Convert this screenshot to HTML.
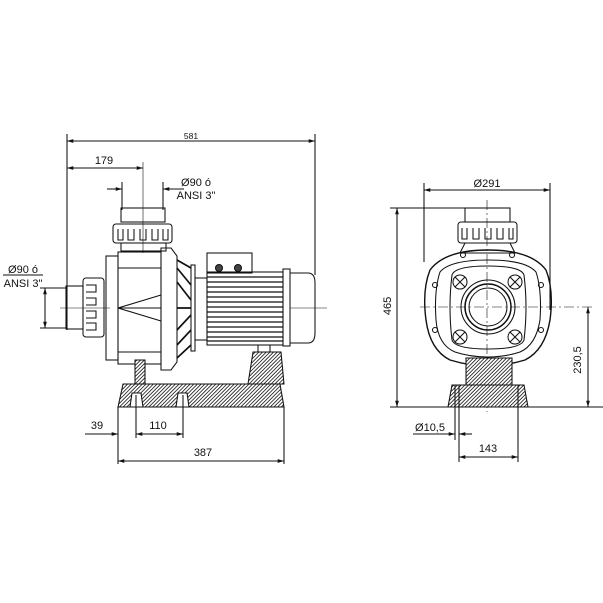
<!DOCTYPE html>
<html><head><style>
html,body{margin:0;padding:0;background:#fff;width:603px;height:603px;overflow:hidden}
svg{display:block}
text{font-family:"Liberation Sans",sans-serif;fill:#111}
</style></head><body>
<svg width="603" height="603" viewBox="0 0 603 603" xmlns="http://www.w3.org/2000/svg">
<defs>
<pattern id="h" width="2.6" height="2.6" patternUnits="userSpaceOnUse" patternTransform="rotate(45)">
<rect width="2.6" height="2.6" fill="#fff"/><line x1="0" y1="0" x2="0" y2="2.6" stroke="#222" stroke-width="1.7"/>
</pattern>
<marker id="a" viewBox="0 0 10 10" refX="10" refY="5" markerWidth="6" markerHeight="6" orient="auto-start-reverse">
<path d="M0,2 L10,5 L0,8 z" fill="#111"/></marker>
</defs>
<g stroke="#111" stroke-width="1.05" fill="none">
<line x1="67" y1="134" x2="67" y2="330"/>
<line x1="315" y1="134" x2="315" y2="275"/>
<line x1="67" y1="141" x2="315" y2="141" marker-start="url(#a)" marker-end="url(#a)"/>
<line x1="67" y1="168" x2="143" y2="168" marker-start="url(#a)" marker-end="url(#a)"/>
<line x1="143" y1="162" x2="143" y2="253" stroke-width="0.6"/>
<line x1="122" y1="182" x2="122" y2="210"/>
<line x1="163" y1="182" x2="163" y2="210"/>
<line x1="107" y1="189" x2="122" y2="189" marker-end="url(#a)"/>
<line x1="163" y1="189" x2="184" y2="189" marker-start="url(#a)"/>
<line x1="40" y1="288" x2="66" y2="288"/>
<line x1="40" y1="328" x2="66" y2="328"/>
<line x1="45" y1="288" x2="45" y2="328" marker-start="url(#a)" marker-end="url(#a)"/>
<line x1="3" y1="275" x2="43" y2="275"/>
<line x1="60" y1="308" x2="110" y2="308" stroke-width="0.5"/>
<line x1="290" y1="308" x2="327" y2="308" stroke-width="0.5"/>
<rect x="121" y="208" width="44" height="14"/>
<rect x="113" y="224" width="59" height="19" rx="3"/>
<path d="M118,229 v11 h5 v-11 M128,229 v11 h6 v-11 M140,229 v11 h6 v-11 M152,229 v11 h6 v-11 M163,229 v11 h5 v-11"/>
<rect x="121" y="243" width="45" height="8"/>
<rect x="66" y="286" width="17" height="43"/>
<rect x="83" y="278" width="21" height="59" rx="3"/>
<path d="M86,285 h10 v7 h-10 M86,298 h10 v7 h-10 M86,311 h10 v7 h-10 M86,323 h10 v7 h-10"/>
<rect x="106" y="256" width="12" height="104"/>
<rect x="118" y="252" width="43" height="112"/>
<line x1="118" y1="268" x2="161" y2="268"/>
<line x1="118" y1="352" x2="161" y2="352"/>
<path d="M161,248 h10 l6,8 v106 l-6,8 h-10 z"/>
<path d="M118,308 L161,295 M118,308 L161,321 M118,308 h43"/>
<path d="M177,260 L191,268 M177,268 L191,285 M177,282 L191,300 M177,308 h14 M177,330 L191,315 M177,345 L191,330 M177,358 L191,345" stroke-width="1.7"/>
<rect x="191" y="265" width="4" height="86"/>
<rect x="195" y="278" width="12" height="62"/>
<rect x="207" y="253" width="45" height="20"/>
<circle cx="219" cy="268" r="3.5" fill="#444"/>
<circle cx="238" cy="268" r="3.5" fill="#444"/>
<rect x="207" y="272" width="76" height="73"/>
<path d="M207,277h76M207,282h76M207,287h76M207,292h76M207,297h76M207,302h76M207,307h76M207,312h76M207,317h76M207,322h76M207,327h76M207,332h76M207,337h76M207,341h76" stroke-width="1.3"/>
<rect x="283" y="269" width="7" height="77"/>
<path d="M290,273 h18 q7,0 7,10 v50 q0,10 -7,10 h-18"/>
<path d="M135,360 h10 v24 h-10 z" fill="url(#h)"/>
<path d="M258,345 h12 v7 h-12 z"/>
<path d="M253,352 h28 l3,32 h-36 z" fill="url(#h)"/>
<path d="M123,384 h157 l4,23 h-166 z" fill="url(#h)"/>
<path d="M130,407 l2,-14 h9 l2,14 z M176,407 l2,-14 h9 l2,14 z" fill="#fff"/>
<line x1="118" y1="407" x2="118" y2="464"/>
<line x1="284" y1="407" x2="284" y2="464"/>
<line x1="136" y1="395" x2="136" y2="438"/>
<line x1="183" y1="395" x2="183" y2="438"/>
<line x1="85" y1="434" x2="118" y2="434" marker-end="url(#a)"/>
<line x1="136" y1="434" x2="183" y2="434" marker-start="url(#a)" marker-end="url(#a)"/>
<line x1="118" y1="461" x2="284" y2="461" marker-start="url(#a)" marker-end="url(#a)"/>

<line x1="424" y1="183" x2="424" y2="262"/>
<line x1="550" y1="183" x2="550" y2="310"/>
<line x1="424" y1="190" x2="550" y2="190" marker-start="url(#a)" marker-end="url(#a)"/>
<line x1="390" y1="208" x2="510" y2="208"/>
<line x1="390" y1="407" x2="603" y2="407"/>
<line x1="397" y1="208" x2="397" y2="407" marker-start="url(#a)" marker-end="url(#a)"/>
<line x1="420" y1="307" x2="595" y2="307" stroke-width="0.6" stroke-dasharray="10,3,2,3"/>
<line x1="588" y1="307" x2="588" y2="407" marker-start="url(#a)" marker-end="url(#a)"/>
<line x1="487" y1="200" x2="487" y2="412" stroke-width="0.6" stroke-dasharray="10,3,2,3"/>
<rect x="465" y="208" width="45" height="14"/>
<rect x="458" y="222" width="59" height="21" rx="3"/>
<path d="M462,228 v11 h5 v-11 M473,228 v11 h6 v-11 M485,228 v11 h6 v-11 M497,228 v11 h6 v-11 M509,228 v11 h4 v-11"/>
<path d="M465,243 h45 l5,10 h-55 z"/>
<path d="M430,270 Q445,250 488,250 Q531,250 546,270 Q554,290 550,320 Q545,350 525,360 Q505,366 488,366 Q470,366 450,360 Q430,350 426,320 Q422,290 430,270 z" stroke-width="1.4"/>
<path d="M440,272 Q450,260 488,260 Q526,260 536,272 Q542,290 540,320 Q536,345 520,352 Q505,357 488,357 Q470,357 455,352 Q438,345 436,320 Q434,290 440,272 z"/>
<path d="M452,275 Q455,266 488,266 Q521,266 524,275 Q528,307 524,340 Q521,349 488,349 Q455,349 452,340 Q448,307 452,275 z"/>
<circle cx="488" cy="307" r="27"/>
<circle cx="488" cy="307" r="23" stroke-width="1.5"/>
<circle cx="488" cy="307" r="19"/>
<circle cx="460" cy="282" r="7"/><path d="M455,277 l10,10 M465,277 l-10,10"/>
<circle cx="515" cy="282" r="7"/><path d="M510,277 l10,10 M520,277 l-10,10"/>
<circle cx="460" cy="337" r="7"/><path d="M455,332 l10,10 M465,332 l-10,10"/>
<circle cx="515" cy="337" r="7"/><path d="M510,332 l10,10 M520,332 l-10,10"/>
<circle cx="435" cy="285" r="2.5"/><circle cx="541" cy="285" r="2.5"/>
<circle cx="435" cy="330" r="2.5"/><circle cx="541" cy="330" r="2.5"/>
<circle cx="463" cy="255" r="2.5"/><circle cx="512" cy="255" r="2.5"/>
<path d="M466,358 h46 v27 h-46 z" fill="url(#h)"/>
<path d="M452,385 h72 l4,22 h-80 z" fill="url(#h)"/>
<path d="M455,385 v22 M459,385 v22 M518,385 v22"/>
<line x1="455" y1="407" x2="455" y2="440"/>
<line x1="459" y1="407" x2="459" y2="462"/>
<line x1="518" y1="407" x2="518" y2="462"/>
<line x1="413" y1="434" x2="455" y2="434" marker-end="url(#a)"/>
<line x1="459" y1="434" x2="472" y2="434" marker-start="url(#a)"/>
<line x1="459" y1="457" x2="518" y2="457" marker-start="url(#a)" marker-end="url(#a)"/>
</g>
<text x="191" y="139" font-size="8.5" text-anchor="middle">581</text>
<text x="104" y="164" font-size="11" text-anchor="middle">179</text>
<text x="196" y="186" font-size="11" text-anchor="middle">Ø90 ó</text>
<text x="196" y="199" font-size="11" text-anchor="middle">ANSI 3"</text>
<text x="23" y="273" font-size="11" text-anchor="middle">Ø90 ó</text>
<text x="23" y="287" font-size="11" text-anchor="middle">ANSI 3"</text>
<text x="97" y="429" font-size="11" text-anchor="middle">39</text>
<text x="158" y="429" font-size="11" text-anchor="middle">110</text>
<text x="203" y="456" font-size="11" text-anchor="middle">387</text>
<text x="487" y="187" font-size="11" text-anchor="middle">Ø291</text>
<text x="0" y="0" font-size="11" text-anchor="middle" transform="translate(391,306) rotate(-90)">465</text>
<text x="0" y="0" font-size="11" text-anchor="middle" transform="translate(581,360) rotate(-90)">230,5</text>
<text x="430" y="431" font-size="11" text-anchor="middle">Ø10,5</text>
<text x="488" y="452" font-size="11" text-anchor="middle">143</text>
</svg>
</body></html>
